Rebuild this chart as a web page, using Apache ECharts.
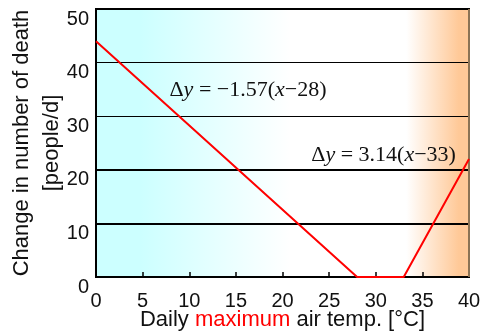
<!DOCTYPE html>
<html>
<head>
<meta charset="utf-8">
<script src="https://cdn.jsdelivr.net/npm/echarts@6/dist/echarts.min.js"></script>
<style>
  html, body { margin: 0; padding: 0; background: #fff; }
  #chart { width: 483px; height: 333px; }
</style>
</head>
<body>
<div id="chart"></div>
<script>
// daily max temperature (deg C) vs change in deaths (people/d)
var temps = [0, 28, 33, 40];
var deaths = [44, 0, 0, 22];
var xTicks = [0, 5, 10, 15, 20, 25, 30, 35, 40];
var yTicks = [0, 10, 20, 30, 40, 50];
// [x, y] anchor of the two regression notes
var coldNote = [16.3, 34.9];
var hotNote = [38.6, 22.8];

var sans = 'Liberation Sans, Arial, sans-serif';
var serif = 'Liberation Serif, Times New Roman, serif';

var noteRich = {
  n: { fontFamily: serif, fontSize: 22, color: '#111' },
  i: { fontFamily: serif, fontSize: 22, fontStyle: 'italic', color: '#111' }
};

var myChart = echarts.init(document.getElementById('chart'));

var options = {
  animation: false,
  grid: {
    left: 96,
    right: 14,
    top: 9,
    bottom: 56,
    outerBoundsMode: 'none',
    containLabel: false,
    show: true,
    borderColor: '#000',
    borderWidth: 2,
    backgroundColor: new echarts.graphic.LinearGradient(0, 0, 1, 0, [
      { offset: 0, color: '#ccffff' },
      { offset: 0.12, color: '#ccffff' },
      { offset: 0.52, color: '#ffffff' },
      { offset: 0.83, color: '#ffffff' },
      { offset: 0.97, color: '#ffc998' },
      { offset: 1, color: '#ffc998' }
    ])
  },
  xAxis: {
    type: 'value',
    min: xTicks[0],
    max: xTicks[xTicks.length - 1],
    interval: 5,
    axisLine: { show: true, lineStyle: { color: '#000', width: 2 } },
    axisTick: { show: true, inside: true, length: 5, lineStyle: { color: '#000', width: 1.5 } },
    axisLabel: { color: '#111', fontFamily: sans, fontSize: 20, margin: 14 },
    splitLine: { show: false },
    name: '{a|Daily }{r|maximum}{a| air temp. [°C]}',
    nameLocation: 'middle',
    nameGap: 32,
    nameMoveOverlap: false,
    nameTextStyle: {
      rich: {
        a: { fontFamily: sans, fontSize: 22, color: '#111' },
        r: { fontFamily: sans, fontSize: 22, color: '#ff0000' }
      }
    }
  },
  yAxis: {
    type: 'value',
    min: yTicks[0],
    max: yTicks[yTicks.length - 1],
    interval: 10,
    axisLine: { show: true, lineStyle: { color: '#000', width: 2 } },
    axisTick: { show: false },
    axisLabel: { color: '#111', fontFamily: sans, fontSize: 20, margin: 7, verticalAlign: 'top' },
    splitLine: { show: true, lineStyle: { color: '#000', width: 1 } },
    name: 'Change in number of death\n[people/d]',
    nameLocation: 'middle',
    nameGap: 29,
    nameMoveOverlap: false,
    nameTextStyle: { color: '#111', fontFamily: sans, fontSize: 22, lineHeight: 30 }
  },
  series: [
    {
      name: 'deaths',
      type: 'line',
      data: temps.map(function (t, i) { return [t, deaths[i]]; }),
      symbol: 'none',
      lineStyle: { color: '#ff0000', width: 2 },
      z: 5,
      markLine: {
        silent: true,
        symbol: 'none',
        label: { show: false },
        data: [
          { yAxis: 10, lineStyle: { color: '#000', width: 2, type: 'solid' } },
          { yAxis: 20, lineStyle: { color: '#000', width: 2, type: 'solid' } },
          { xAxis: 40, lineStyle: { color: '#8b7355', width: 2, type: 'solid' } }
        ]
      },
      markPoint: {
        silent: true,
        symbol: 'circle',
        symbolSize: 0,
        data: [
          {
            coord: coldNote,
            label: {
              show: true,
              position: 'inside',
              formatter: '{n|Δ}{i|y}{n| = −1.57(}{i|x}{n|−28)}',
              rich: noteRich
            }
          },
          {
            coord: hotNote,
            label: {
              show: true,
              position: 'left',
              distance: 0,
              formatter: '{n|Δ}{i|y}{n| = 3.14(}{i|x}{n|−33)}',
              rich: noteRich
            }
          }
        ]
      }
    }
  ]
};

myChart.setOption(options);
</script>
</body>
</html>
